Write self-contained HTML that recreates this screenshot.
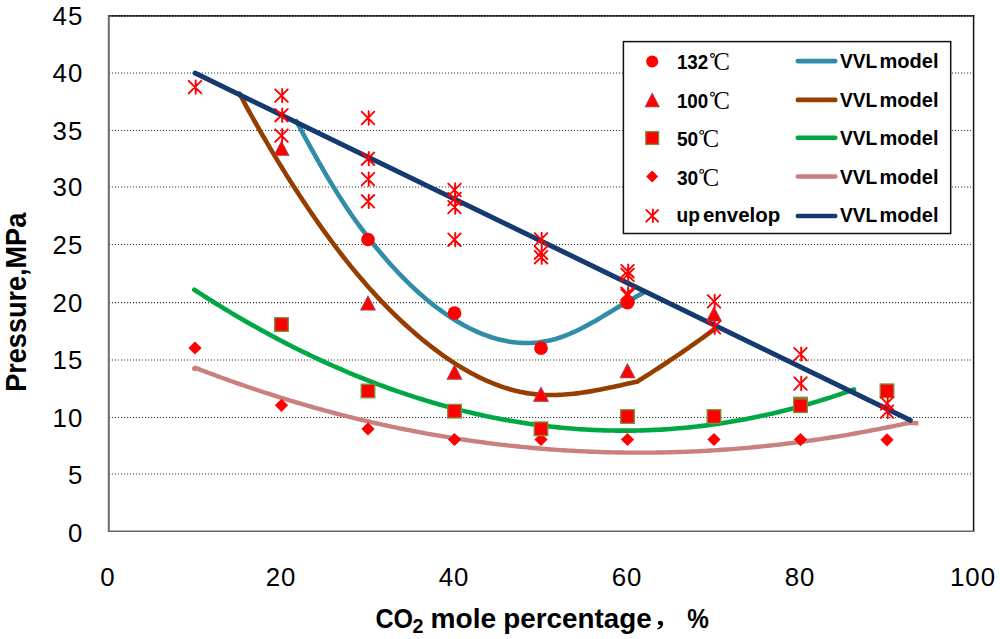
<!DOCTYPE html><html><head><meta charset="utf-8"><style>html,body{margin:0;padding:0;background:#fff;overflow:hidden}svg{display:block}</style></head><body>
<svg width="1000" height="639" viewBox="0 0 1000 639">
<rect width="1000" height="639" fill="#fff"/>
<line x1="109" y1="474.00" x2="973" y2="474.00" stroke="#333" stroke-width="1.05" stroke-dasharray="1 2"/>
<line x1="110" y1="474.00" x2="973" y2="474.00" stroke="#d4d4d4" stroke-width="1.05" stroke-dasharray="1 5"/>
<line x1="109" y1="417.45" x2="973" y2="417.45" stroke="#333" stroke-width="1.05" stroke-dasharray="1 2"/>
<line x1="110" y1="417.45" x2="973" y2="417.45" stroke="#d4d4d4" stroke-width="1.05" stroke-dasharray="1 5"/>
<line x1="109" y1="360.00" x2="973" y2="360.00" stroke="#333" stroke-width="1.05" stroke-dasharray="1 2"/>
<line x1="110" y1="360.00" x2="973" y2="360.00" stroke="#d4d4d4" stroke-width="1.05" stroke-dasharray="1 5"/>
<line x1="109" y1="302.60" x2="973" y2="302.60" stroke="#333" stroke-width="1.05" stroke-dasharray="1 2"/>
<line x1="110" y1="302.60" x2="973" y2="302.60" stroke="#d4d4d4" stroke-width="1.05" stroke-dasharray="1 5"/>
<line x1="109" y1="244.50" x2="973" y2="244.50" stroke="#333" stroke-width="1.05" stroke-dasharray="1 2"/>
<line x1="110" y1="244.50" x2="973" y2="244.50" stroke="#d4d4d4" stroke-width="1.05" stroke-dasharray="1 5"/>
<line x1="109" y1="187.00" x2="973" y2="187.00" stroke="#333" stroke-width="1.05" stroke-dasharray="1 2"/>
<line x1="110" y1="187.00" x2="973" y2="187.00" stroke="#d4d4d4" stroke-width="1.05" stroke-dasharray="1 5"/>
<line x1="109" y1="130.45" x2="973" y2="130.45" stroke="#333" stroke-width="1.05" stroke-dasharray="1 2"/>
<line x1="110" y1="130.45" x2="973" y2="130.45" stroke="#d4d4d4" stroke-width="1.05" stroke-dasharray="1 5"/>
<line x1="109" y1="73.00" x2="973" y2="73.00" stroke="#333" stroke-width="1.05" stroke-dasharray="1 2"/>
<line x1="110" y1="73.00" x2="973" y2="73.00" stroke="#d4d4d4" stroke-width="1.05" stroke-dasharray="1 5"/>
<line x1="108" y1="15.9" x2="974.3" y2="15.9" stroke="#444" stroke-width="1.6"/>
<line x1="109" y1="15.9" x2="974.3" y2="15.9" stroke="#000" stroke-width="1.3" stroke-dasharray="1.5 1.5"/>
<line x1="973.6" y1="15.2" x2="973.6" y2="532" stroke="#111" stroke-width="1.5"/>
<line x1="108.8" y1="15.2" x2="108.8" y2="532" stroke="#6b6b6b" stroke-width="2"/>
<line x1="108" y1="531.3" x2="974.3" y2="531.3" stroke="#666" stroke-width="1.5"/>
<g font-family="Liberation Sans, sans-serif" font-size="25.8" fill="#000" text-anchor="end" letter-spacing="1.1">
<text x="83.4" y="541.8">0</text>
<text x="83.4" y="484.1">5</text>
<text x="83.4" y="426.6">10</text>
<text x="83.4" y="369.1">15</text>
<text x="83.4" y="311.7">20</text>
<text x="83.4" y="253.6">25</text>
<text x="83.4" y="196.1">30</text>
<text x="83.4" y="139.5">35</text>
<text x="83.4" y="82.1">40</text>
<text x="83.4" y="24.9">45</text>
</g>
<g font-family="Liberation Sans, sans-serif" font-size="25.8" fill="#000" text-anchor="middle" letter-spacing="1.1">
<text x="108.1" y="585.6">0</text>
<text x="281.1" y="585.6">20</text>
<text x="454.1" y="585.6">40</text>
<text x="627.1" y="585.6">60</text>
<text x="800.1" y="585.6">80</text>
<text x="973.1" y="585.6">100</text>
</g>
<path d="M194.00,367.26 L197.00,368.42 L200.01,369.58 L203.01,370.73 L206.02,371.87 L209.02,373.01 L212.03,374.13 L215.03,375.25 L218.03,376.36 L221.04,377.46 L224.04,378.55 L227.05,379.64 L230.05,380.72 L233.05,381.78 L236.06,382.84 L239.06,383.90 L242.07,384.94 L245.07,385.97 L248.08,387.00 L251.08,388.02 L254.08,389.03 L257.09,390.03 L260.09,391.03 L263.10,392.02 L266.10,392.99 L269.11,393.96 L272.11,394.93 L275.11,395.88 L278.12,396.82 L281.12,397.76 L284.13,398.69 L287.13,399.61 L290.13,400.53 L293.14,401.43 L296.14,402.33 L299.15,403.22 L302.15,404.10 L305.16,404.97 L308.16,405.83 L311.16,406.69 L314.17,407.54 L317.17,408.38 L320.18,409.21 L323.18,410.04 L326.18,410.85 L329.19,411.66 L332.19,412.46 L335.20,413.25 L338.20,414.04 L341.21,414.81 L344.21,415.58 L347.21,416.34 L350.22,417.09 L353.22,417.83 L356.23,418.57 L359.23,419.30 L362.24,420.02 L365.24,420.73 L368.24,421.43 L371.25,422.13 L374.25,422.82 L377.26,423.50 L380.26,424.17 L383.26,424.83 L386.27,425.49 L389.27,426.14 L392.28,426.78 L395.28,427.41 L398.29,428.03 L401.29,428.65 L404.29,429.26 L407.30,429.86 L410.30,430.45 L413.31,431.03 L416.31,431.61 L419.32,432.18 L422.32,432.74 L425.32,433.29 L428.33,433.84 L431.33,434.37 L434.34,434.90 L437.34,435.42 L440.34,435.94 L443.35,436.44 L446.35,436.94 L449.36,437.43 L452.36,437.91 L455.37,438.39 L458.37,438.85 L461.37,439.31 L464.38,439.76 L467.38,440.21 L470.39,440.64 L473.39,441.07 L476.39,441.49 L479.40,441.90 L482.40,442.30 L485.41,442.70 L488.41,443.09 L491.42,443.47 L494.42,443.84 L497.42,444.20 L500.43,444.56 L503.43,444.91 L506.44,445.25 L509.44,445.59 L512.45,445.91 L515.45,446.23 L518.45,446.54 L521.46,446.84 L524.46,447.14 L527.47,447.43 L530.47,447.71 L533.47,447.98 L536.48,448.24 L539.48,448.50 L542.49,448.75 L545.49,448.99 L548.50,449.22 L551.50,449.45 L554.50,449.66 L557.51,449.88 L560.51,450.08 L563.52,450.27 L566.52,450.46 L569.53,450.64 L572.53,450.81 L575.53,450.98 L578.54,451.13 L581.54,451.28 L584.55,451.42 L587.55,451.56 L590.55,451.68 L593.56,451.80 L596.56,451.91 L599.57,452.02 L602.57,452.11 L605.58,452.20 L608.58,452.28 L611.58,452.35 L614.59,452.42 L617.59,452.48 L620.60,452.53 L623.60,452.57 L626.61,452.60 L629.61,452.63 L632.61,452.65 L635.62,452.66 L638.62,452.67 L641.63,452.67 L644.63,452.66 L647.63,452.64 L650.64,452.61 L653.64,452.58 L656.65,452.54 L659.65,452.49 L662.66,452.44 L665.66,452.37 L668.66,452.30 L671.67,452.23 L674.67,452.14 L677.68,452.05 L680.68,451.95 L683.68,451.84 L686.69,451.73 L689.69,451.60 L692.70,451.47 L695.70,451.34 L698.71,451.19 L701.71,451.04 L704.71,450.88 L707.72,450.71 L710.72,450.54 L713.73,450.35 L716.73,450.16 L719.74,449.97 L722.74,449.76 L725.74,449.55 L728.75,449.33 L731.75,449.11 L734.76,448.87 L737.76,448.63 L740.76,448.38 L743.77,448.13 L746.77,447.86 L749.78,447.59 L752.78,447.31 L755.79,447.03 L758.79,446.74 L761.79,446.43 L764.80,446.13 L767.80,445.81 L770.81,445.49 L773.81,445.16 L776.82,444.82 L779.82,444.48 L782.82,444.13 L785.83,443.77 L788.83,443.40 L791.84,443.03 L794.84,442.65 L797.84,442.26 L800.85,441.87 L803.85,441.46 L806.86,441.05 L809.86,440.64 L812.87,440.21 L815.87,439.78 L818.87,439.34 L821.88,438.90 L824.88,438.44 L827.89,437.98 L830.89,437.52 L833.89,437.04 L836.90,436.56 L839.90,436.07 L842.91,435.57 L845.91,435.07 L848.92,434.56 L851.92,434.04 L854.92,433.51 L857.93,432.98 L860.93,432.44 L863.94,431.90 L866.94,431.34 L869.95,430.78 L872.95,430.21 L875.95,429.64 L878.96,429.05 L881.96,428.46 L884.97,427.87 L887.97,427.26 L890.97,426.65 L893.98,426.03 L896.98,425.41 L899.99,424.78 L902.99,424.14 L906.00,423.49 L909.00,422.84 L918.4,423.3" fill="none" stroke="#c98080" stroke-width="4.4" stroke-linecap="butt" stroke-linejoin="round"/>
<circle cx="194.6" cy="368.6" r="2.6" fill="#c98080"/>
<path d="M194.30,289.77 L197.31,291.73 L200.32,293.67 L203.34,295.60 L206.35,297.52 L209.36,299.42 L212.37,301.31 L215.39,303.19 L218.40,305.05 L221.41,306.90 L224.42,308.74 L227.44,310.56 L230.45,312.37 L233.46,314.16 L236.47,315.94 L239.48,317.71 L242.50,319.46 L245.51,321.20 L248.52,322.93 L251.53,324.64 L254.55,326.34 L257.56,328.03 L260.57,329.70 L263.58,331.36 L266.60,333.01 L269.61,334.64 L272.62,336.26 L275.63,337.86 L278.65,339.45 L281.66,341.03 L284.67,342.59 L287.68,344.14 L290.69,345.68 L293.71,347.20 L296.72,348.71 L299.73,350.21 L302.74,351.69 L305.76,353.16 L308.77,354.61 L311.78,356.05 L314.79,357.48 L317.81,358.89 L320.82,360.29 L323.83,361.68 L326.84,363.05 L329.85,364.41 L332.87,365.76 L335.88,367.09 L338.89,368.41 L341.90,369.71 L344.92,371.00 L347.93,372.28 L350.94,373.54 L353.95,374.79 L356.97,376.03 L359.98,377.25 L362.99,378.46 L366.00,379.65 L369.02,380.83 L372.03,382.00 L375.04,383.15 L378.05,384.29 L381.06,385.42 L384.08,386.53 L387.09,387.63 L390.10,388.72 L393.11,389.79 L396.13,390.84 L399.14,391.89 L402.15,392.92 L405.16,393.93 L408.18,394.94 L411.19,395.92 L414.20,396.90 L417.21,397.86 L420.22,398.81 L423.24,399.74 L426.25,400.66 L429.26,401.56 L432.27,402.46 L435.29,403.33 L438.30,404.20 L441.31,405.05 L444.32,405.89 L447.34,406.71 L450.35,407.52 L453.36,408.31 L456.37,409.09 L459.38,409.86 L462.40,410.62 L465.41,411.36 L468.42,412.08 L471.43,412.79 L474.45,413.49 L477.46,414.18 L480.47,414.85 L483.48,415.50 L486.50,416.15 L489.51,416.78 L492.52,417.39 L495.53,417.99 L498.55,418.58 L501.56,419.15 L504.57,419.71 L507.58,420.26 L510.59,420.79 L513.61,421.31 L516.62,421.81 L519.63,422.30 L522.64,422.78 L525.66,423.24 L528.67,423.69 L531.68,424.12 L534.69,424.54 L537.71,424.95 L540.72,425.34 L543.73,425.72 L546.74,426.09 L549.75,426.44 L552.77,426.77 L555.78,427.10 L558.79,427.40 L561.80,427.70 L564.82,427.98 L567.83,428.25 L570.84,428.50 L573.85,428.74 L576.87,428.96 L579.88,429.18 L582.89,429.37 L585.90,429.56 L588.92,429.73 L591.93,429.88 L594.94,430.02 L597.95,430.15 L600.96,430.26 L603.98,430.36 L606.99,430.45 L610.00,430.52 L613.01,430.57 L616.03,430.62 L619.04,430.65 L622.05,430.66 L625.06,430.66 L628.08,430.65 L631.09,430.62 L634.10,430.58 L637.11,430.52 L640.12,430.46 L643.14,430.37 L646.15,430.27 L649.16,430.16 L652.17,430.04 L655.19,429.90 L658.20,429.74 L661.21,429.58 L664.22,429.39 L667.24,429.20 L670.25,428.99 L673.26,428.76 L676.27,428.52 L679.28,428.27 L682.30,428.01 L685.31,427.72 L688.32,427.43 L691.33,427.12 L694.35,426.80 L697.36,426.46 L700.37,426.11 L703.38,425.74 L706.40,425.36 L709.41,424.97 L712.42,424.56 L715.43,424.14 L718.45,423.70 L721.46,423.25 L724.47,422.79 L727.48,422.31 L730.49,421.82 L733.51,421.31 L736.52,420.79 L739.53,420.25 L742.54,419.70 L745.56,419.14 L748.57,418.56 L751.58,417.97 L754.59,417.36 L757.61,416.74 L760.62,416.11 L763.63,415.46 L766.64,414.80 L769.65,414.12 L772.67,413.43 L775.68,412.72 L778.69,412.00 L781.70,411.27 L784.72,410.52 L787.73,409.75 L790.74,408.98 L793.75,408.19 L796.77,407.38 L799.78,406.56 L802.79,405.73 L805.80,404.88 L808.82,404.02 L811.83,403.14 L814.84,402.25 L817.85,401.34 L820.86,400.42 L823.88,399.49 L826.89,398.54 L829.90,397.58 L832.91,396.60 L835.93,395.61 L838.94,394.60 L841.95,393.58 L844.96,392.55 L847.98,391.50 L850.99,390.44 L854.00,389.36" fill="none" stroke="#00a843" stroke-width="4.6" stroke-linecap="round" stroke-linejoin="round"/>
<path d="M239.50,93.65 L242.51,99.25 L245.52,104.80 L248.53,110.30 L251.55,115.75 L254.56,121.14 L257.57,126.48 L260.58,131.77 L263.59,137.00 L266.60,142.18 L269.61,147.31 L272.63,152.38 L275.64,157.41 L278.65,162.38 L281.66,167.30 L284.67,172.16 L287.68,176.98 L290.69,181.75 L293.71,186.46 L296.72,191.12 L299.73,195.73 L302.74,200.29 L305.75,204.80 L308.76,209.26 L311.77,213.67 L314.79,218.03 L317.80,222.34 L320.81,226.60 L323.82,230.81 L326.83,234.97 L329.84,239.08 L332.85,243.14 L335.87,247.15 L338.88,251.11 L341.89,255.01 L344.90,258.86 L347.91,262.66 L350.92,266.40 L353.94,270.09 L356.95,273.72 L359.96,277.30 L362.97,280.83 L365.98,284.30 L368.99,287.71 L372.00,291.07 L375.02,294.37 L378.03,297.62 L381.04,300.81 L384.05,303.95 L387.06,307.04 L390.07,310.08 L393.08,313.06 L396.10,315.99 L399.11,318.87 L402.12,321.70 L405.13,324.49 L408.14,327.22 L411.15,329.91 L414.16,332.54 L417.18,335.13 L420.19,337.68 L423.20,340.17 L426.21,342.62 L429.22,345.02 L432.23,347.37 L435.24,349.67 L438.26,351.92 L441.27,354.12 L444.28,356.26 L447.29,358.36 L450.30,360.40 L453.31,362.39 L456.32,364.33 L459.34,366.21 L462.35,368.04 L465.36,369.81 L468.37,371.53 L471.38,373.19 L474.39,374.79 L477.40,376.34 L480.42,377.83 L483.43,379.26 L486.44,380.63 L489.45,381.94 L492.46,383.19 L495.47,384.38 L498.48,385.52 L501.50,386.59 L504.51,387.59 L507.52,388.54 L510.53,389.42 L513.54,390.24 L516.55,390.99 L519.56,391.68 L522.58,392.31 L525.59,392.87 L528.60,393.36 L531.61,393.78 L534.62,394.14 L537.63,394.44 L540.65,394.67 L543.66,394.85 L546.67,394.96 L549.68,395.02 L552.69,395.03 L555.70,394.99 L558.71,394.89 L561.73,394.75 L564.74,394.56 L567.75,394.33 L570.76,394.05 L573.77,393.74 L576.78,393.39 L579.79,393.00 L582.81,392.58 L585.82,392.12 L588.83,391.64 L591.84,391.13 L594.85,390.60 L597.86,390.04 L600.87,389.46 L603.89,388.85 L606.90,388.24 L609.91,387.60 L612.92,386.95 L615.93,386.29 L618.94,385.63 L621.95,384.95 L624.97,384.27 L627.98,383.58 L630.99,382.90 L634.00,382.21 L637.03,381.70 L640.05,379.81 L643.08,377.91 L646.11,376.00 L649.13,374.07 L652.16,372.13 L655.19,370.18 L658.22,368.21 L661.24,366.23 L664.27,364.23 L667.30,362.22 L670.32,360.20 L673.35,358.17 L676.38,356.12 L679.40,354.06 L682.43,351.98 L685.46,349.89 L688.48,347.79 L691.51,345.68 L694.54,343.55 L697.57,341.40 L700.59,339.25 L703.62,337.08 L706.65,334.90 L709.67,332.70 L712.70,330.49" fill="none" stroke="#953e00" stroke-width="4.6" stroke-linecap="round" stroke-linejoin="round"/>
<path d="M296.30,121.07 L299.31,126.68 L302.33,132.27 L305.34,137.82 L308.36,143.33 L311.37,148.80 L314.39,154.22 L317.40,159.59 L320.42,164.89 L323.43,170.13 L326.45,175.30 L329.46,180.39 L332.48,185.40 L335.49,190.31 L338.51,195.14 L341.52,199.86 L344.54,204.48 L347.55,209.00 L350.57,213.43 L353.58,217.77 L356.60,222.01 L359.61,226.17 L362.63,230.24 L365.64,234.23 L368.65,238.13 L371.67,241.96 L374.68,245.72 L377.70,249.40 L380.71,253.01 L383.73,256.56 L386.74,260.03 L389.76,263.44 L392.77,266.77 L395.79,270.04 L398.80,273.24 L401.82,276.37 L404.83,279.43 L407.85,282.42 L410.86,285.35 L413.88,288.20 L416.89,290.98 L419.91,293.69 L422.92,296.34 L425.94,298.91 L428.95,301.41 L431.97,303.84 L434.98,306.20 L437.99,308.50 L441.01,310.72 L444.02,312.86 L447.04,314.94 L450.05,316.95 L453.07,318.89 L456.08,320.75 L459.10,322.54 L462.11,324.26 L465.13,325.91 L468.14,327.49 L471.16,328.99 L474.17,330.43 L477.19,331.79 L480.20,333.07 L483.22,334.28 L486.23,335.42 L489.25,336.47 L492.26,337.46 L495.28,338.36 L498.29,339.19 L501.31,339.93 L504.32,340.60 L507.33,341.18 L510.35,341.69 L513.36,342.11 L516.38,342.44 L519.39,342.70 L522.41,342.87 L525.42,342.95 L528.44,342.95 L531.45,342.86 L534.47,342.68 L537.48,342.42 L540.50,342.06 L543.51,341.62 L546.53,341.08 L549.54,340.46 L552.56,339.74 L555.57,338.92 L558.59,338.02 L561.60,337.02 L564.62,335.92 L567.63,334.75 L570.65,333.48 L573.66,332.15 L576.67,330.74 L579.69,329.27 L582.70,327.74 L585.72,326.16 L588.73,324.52 L591.75,322.85 L594.76,321.13 L597.78,319.39 L600.79,317.61 L603.81,315.82 L606.82,314.01 L609.84,312.19 L612.85,310.36 L615.87,308.54 L618.88,306.72 L621.90,304.91 L624.91,303.12 L627.93,301.35 L630.94,299.60 L633.96,297.89 L636.97,296.22 L639.99,294.60 L643.00,293.02" fill="none" stroke="#318ca8" stroke-width="4.6" stroke-linecap="round" stroke-linejoin="round"/>
<path d="M195.0,73.1L910.3,420.2" fill="none" stroke="#143a70" stroke-width="5.0" stroke-linecap="round" stroke-linejoin="round"/>
<path d="M195.0,341.4L201.6,348.0L195.0,354.6L188.4,348.0Z" fill="#ff0000"/>
<path d="M281.5,398.7L288.1,405.3L281.5,411.9L274.9,405.3Z" fill="#ff0000"/>
<path d="M368.0,422.3L374.6,428.9L368.0,435.5L361.4,428.9Z" fill="#ff0000"/>
<path d="M454.5,432.9L461.1,439.5L454.5,446.1L447.9,439.5Z" fill="#ff0000"/>
<path d="M541.0,432.9L547.6,439.5L541.0,446.1L534.4,439.5Z" fill="#ff0000"/>
<path d="M627.5,432.9L634.1,439.5L627.5,446.1L620.9,439.5Z" fill="#ff0000"/>
<path d="M714.0,432.9L720.6,439.5L714.0,446.1L707.4,439.5Z" fill="#ff0000"/>
<path d="M800.5,433.0L807.1,439.6L800.5,446.2L793.9,439.6Z" fill="#ff0000"/>
<path d="M887.0,433.2L893.6,439.8L887.0,446.4L880.4,439.8Z" fill="#ff0000"/>
<rect x="274.7" y="317.7" width="13.6" height="13.6" fill="#ff0000" stroke="#76923c" stroke-width="1.3"/>
<rect x="361.2" y="384.2" width="13.6" height="13.6" fill="#ff0000" stroke="#76923c" stroke-width="1.3"/>
<rect x="447.7" y="404.4" width="13.6" height="13.6" fill="#ff0000" stroke="#76923c" stroke-width="1.3"/>
<rect x="534.2" y="422.0" width="13.6" height="13.6" fill="#ff0000" stroke="#76923c" stroke-width="1.3"/>
<rect x="620.7" y="409.7" width="13.6" height="13.6" fill="#ff0000" stroke="#76923c" stroke-width="1.3"/>
<rect x="707.2" y="409.7" width="13.6" height="13.6" fill="#ff0000" stroke="#76923c" stroke-width="1.3"/>
<rect x="793.7" y="397.3" width="13.6" height="13.6" fill="#ff0000" stroke="#76923c" stroke-width="1.3"/>
<rect x="793.7" y="398.9" width="13.6" height="13.6" fill="#ff0000" stroke="#76923c" stroke-width="1.3"/>
<rect x="880.2" y="384.0" width="13.6" height="13.6" fill="#ff0000" stroke="#76923c" stroke-width="1.3"/>
<path d="M281.5,141.4L288.7,155.2L274.3,155.2Z" fill="#ff0000" stroke="#b8333f" stroke-width="1.1" stroke-linejoin="miter"/>
<path d="M368.0,296.2L375.2,310.0L360.8,310.0Z" fill="#ff0000" stroke="#b8333f" stroke-width="1.1" stroke-linejoin="miter"/>
<path d="M454.5,365.3L461.7,379.1L447.3,379.1Z" fill="#ff0000" stroke="#b8333f" stroke-width="1.1" stroke-linejoin="miter"/>
<path d="M541.0,387.5L548.2,401.3L533.8,401.3Z" fill="#ff0000" stroke="#b8333f" stroke-width="1.1" stroke-linejoin="miter"/>
<path d="M627.5,364.0L634.7,377.8L620.3,377.8Z" fill="#ff0000" stroke="#b8333f" stroke-width="1.1" stroke-linejoin="miter"/>
<path d="M714.0,307.2L721.2,321.0L706.8,321.0Z" fill="#ff0000" stroke="#b8333f" stroke-width="1.1" stroke-linejoin="miter"/>
<circle cx="368.0" cy="239.5" r="6.85" fill="#ff0000"/>
<circle cx="454.5" cy="313.2" r="6.85" fill="#ff0000"/>
<circle cx="541.0" cy="348.2" r="6.85" fill="#ff0000"/>
<circle cx="627.5" cy="302.7" r="6.85" fill="#ff0000"/>
<path d="M188.7,80.8L201.3,93.4M201.3,80.8L188.7,93.4M195.7,80.4L195.7,93.8" stroke="#ff0000" stroke-width="1.9" stroke-linecap="round" fill="none"/>
<path d="M275.2,89.3L287.8,101.9M287.8,89.3L275.2,101.9M282.2,88.9L282.2,102.3" stroke="#ff0000" stroke-width="1.9" stroke-linecap="round" fill="none"/>
<path d="M275.2,108.9L287.8,121.5M287.8,108.9L275.2,121.5M282.2,108.5L282.2,121.9" stroke="#ff0000" stroke-width="1.9" stroke-linecap="round" fill="none"/>
<path d="M275.2,129.3L287.8,141.9M287.8,129.3L275.2,141.9M282.2,128.9L282.2,142.3" stroke="#ff0000" stroke-width="1.9" stroke-linecap="round" fill="none"/>
<path d="M361.7,111.7L374.3,124.3M374.3,111.7L361.7,124.3M368.7,111.3L368.7,124.7" stroke="#ff0000" stroke-width="1.9" stroke-linecap="round" fill="none"/>
<path d="M361.7,152.4L374.3,165.0M374.3,152.4L361.7,165.0M368.7,152.0L368.7,165.4" stroke="#ff0000" stroke-width="1.9" stroke-linecap="round" fill="none"/>
<path d="M361.7,172.8L374.3,185.4M374.3,172.8L361.7,185.4M368.7,172.4L368.7,185.8" stroke="#ff0000" stroke-width="1.9" stroke-linecap="round" fill="none"/>
<path d="M361.7,195.0L374.3,207.6M374.3,195.0L361.7,207.6M368.7,194.6L368.7,208.0" stroke="#ff0000" stroke-width="1.9" stroke-linecap="round" fill="none"/>
<path d="M448.2,183.6L460.8,196.2M460.8,183.6L448.2,196.2M455.2,183.2L455.2,196.6" stroke="#ff0000" stroke-width="1.9" stroke-linecap="round" fill="none"/>
<path d="M448.2,192.7L460.8,205.3M460.8,192.7L448.2,205.3M455.2,192.3L455.2,205.7" stroke="#ff0000" stroke-width="1.9" stroke-linecap="round" fill="none"/>
<path d="M448.2,200.8L460.8,213.4M460.8,200.8L448.2,213.4M455.2,200.4L455.2,213.8" stroke="#ff0000" stroke-width="1.9" stroke-linecap="round" fill="none"/>
<path d="M448.2,233.4L460.8,246.0M460.8,233.4L448.2,246.0M455.2,233.0L455.2,246.4" stroke="#ff0000" stroke-width="1.9" stroke-linecap="round" fill="none"/>
<path d="M534.7,233.1L547.3,245.7M547.3,233.1L534.7,245.7M541.7,232.7L541.7,246.1" stroke="#ff0000" stroke-width="1.9" stroke-linecap="round" fill="none"/>
<path d="M534.7,246.4L547.3,259.0M547.3,246.4L534.7,259.0M541.7,246.0L541.7,259.4" stroke="#ff0000" stroke-width="1.9" stroke-linecap="round" fill="none"/>
<path d="M534.7,250.9L547.3,263.5M547.3,250.9L534.7,263.5M541.7,250.5L541.7,263.9" stroke="#ff0000" stroke-width="1.9" stroke-linecap="round" fill="none"/>
<path d="M621.2,264.9L633.8,277.5M633.8,264.9L621.2,277.5M628.2,264.5L628.2,277.9" stroke="#ff0000" stroke-width="1.9" stroke-linecap="round" fill="none"/>
<path d="M621.2,268.6L633.8,281.2M633.8,268.6L621.2,281.2M628.2,268.2L628.2,281.6" stroke="#ff0000" stroke-width="1.9" stroke-linecap="round" fill="none"/>
<path d="M621.2,287.4L633.8,300.0M633.8,287.4L621.2,300.0M628.2,287.0L628.2,300.4" stroke="#ff0000" stroke-width="1.9" stroke-linecap="round" fill="none"/>
<path d="M621.2,289.3L633.8,301.9M633.8,289.3L621.2,301.9M628.2,288.9L628.2,302.3" stroke="#ff0000" stroke-width="1.9" stroke-linecap="round" fill="none"/>
<path d="M707.7,295.1L720.3,307.7M720.3,295.1L707.7,307.7M714.7,294.7L714.7,308.1" stroke="#ff0000" stroke-width="1.9" stroke-linecap="round" fill="none"/>
<path d="M707.7,321.1L720.3,333.7M720.3,321.1L707.7,333.7M714.7,320.7L714.7,334.1" stroke="#ff0000" stroke-width="1.9" stroke-linecap="round" fill="none"/>
<path d="M794.2,347.8L806.8,360.4M806.8,347.8L794.2,360.4M801.2,347.4L801.2,360.8" stroke="#ff0000" stroke-width="1.9" stroke-linecap="round" fill="none"/>
<path d="M794.2,377.2L806.8,389.8M806.8,377.2L794.2,389.8M801.2,376.8L801.2,390.2" stroke="#ff0000" stroke-width="1.9" stroke-linecap="round" fill="none"/>
<path d="M880.7,397.1L893.3,409.7M893.3,397.1L880.7,409.7M887.7,396.7L887.7,410.1" stroke="#ff0000" stroke-width="1.9" stroke-linecap="round" fill="none"/>
<path d="M880.7,405.3L893.3,417.9M893.3,405.3L880.7,417.9M887.7,404.9L887.7,418.3" stroke="#ff0000" stroke-width="1.9" stroke-linecap="round" fill="none"/>
<rect x="623.4" y="41.6" width="327.3" height="191.9" fill="#fff" stroke="#111" stroke-width="1.5"/>
<circle cx="652.2" cy="61.4" r="6.00" fill="#ff0000"/>
<path d="M652.2,93.4L659.0,106.8L645.4,106.8Z" fill="#ff0000" stroke="#b8333f" stroke-width="1.1" stroke-linejoin="miter"/>
<rect x="645.8" y="131.6" width="12.8" height="12.8" fill="#ff0000" stroke="#76923c" stroke-width="1.3"/>
<path d="M652.2,170.5L658.2,176.5L652.2,182.5L646.2,176.5Z" fill="#ff0000"/>
<path d="M646.3,209.9L658.1,221.7M658.1,209.9L646.3,221.7M652.9,209.5L652.9,222.1" stroke="#ff0000" stroke-width="1.9" stroke-linecap="round" fill="none"/>
<line x1="797.8" y1="61.1" x2="835.3" y2="61.1" stroke="#318ca8" stroke-width="4.6" stroke-linecap="round"/>
<line x1="797.8" y1="99.9" x2="835.3" y2="99.9" stroke="#953e00" stroke-width="4.6" stroke-linecap="round"/>
<line x1="797.8" y1="137.8" x2="835.3" y2="137.8" stroke="#00a843" stroke-width="4.6" stroke-linecap="round"/>
<line x1="797.8" y1="176.5" x2="835.3" y2="176.5" stroke="#c98080" stroke-width="4.6" stroke-linecap="round"/>
<line x1="797.8" y1="216.0" x2="835.3" y2="216.0" stroke="#143a70" stroke-width="4.6" stroke-linecap="round"/>
<text font-family="Liberation Sans, sans-serif" font-weight="bold" font-size="20.4" x="839.9" y="67.9" textLength="37.3" lengthAdjust="spacingAndGlyphs">VVL</text>
<text font-family="Liberation Sans, sans-serif" font-weight="bold" font-size="20.4" x="879.5" y="67.9" textLength="59.0" lengthAdjust="spacingAndGlyphs">model</text>
<text font-family="Liberation Sans, sans-serif" font-weight="bold" font-size="20.4" x="839.9" y="106.5" textLength="37.3" lengthAdjust="spacingAndGlyphs">VVL</text>
<text font-family="Liberation Sans, sans-serif" font-weight="bold" font-size="20.4" x="879.5" y="106.5" textLength="59.0" lengthAdjust="spacingAndGlyphs">model</text>
<text font-family="Liberation Sans, sans-serif" font-weight="bold" font-size="20.4" x="839.9" y="145.1" textLength="37.3" lengthAdjust="spacingAndGlyphs">VVL</text>
<text font-family="Liberation Sans, sans-serif" font-weight="bold" font-size="20.4" x="879.5" y="145.1" textLength="59.0" lengthAdjust="spacingAndGlyphs">model</text>
<text font-family="Liberation Sans, sans-serif" font-weight="bold" font-size="20.4" x="839.9" y="183.7" textLength="37.3" lengthAdjust="spacingAndGlyphs">VVL</text>
<text font-family="Liberation Sans, sans-serif" font-weight="bold" font-size="20.4" x="879.5" y="183.7" textLength="59.0" lengthAdjust="spacingAndGlyphs">model</text>
<text font-family="Liberation Sans, sans-serif" font-weight="bold" font-size="20.4" x="839.9" y="222.3" textLength="37.3" lengthAdjust="spacingAndGlyphs">VVL</text>
<text font-family="Liberation Sans, sans-serif" font-weight="bold" font-size="20.4" x="879.5" y="222.3" textLength="59.0" lengthAdjust="spacingAndGlyphs">model</text>
<text font-family="Liberation Sans, sans-serif" font-weight="bold" font-size="20.4" x="676.9" y="69.3" textLength="31.4" lengthAdjust="spacingAndGlyphs">132</text>
<circle cx="712.5" cy="55.5" r="1.9" fill="none" stroke="#000" stroke-width="1.1"/>
<text font-family="Liberation Serif, serif" font-size="24.5" x="713.5" y="69.9">C</text>
<text font-family="Liberation Sans, sans-serif" font-weight="bold" font-size="20.4" x="676.9" y="108.0" textLength="31.4" lengthAdjust="spacingAndGlyphs">100</text>
<circle cx="712.5" cy="94.2" r="1.9" fill="none" stroke="#000" stroke-width="1.1"/>
<text font-family="Liberation Serif, serif" font-size="24.5" x="713.5" y="108.6">C</text>
<text font-family="Liberation Sans, sans-serif" font-weight="bold" font-size="20.4" x="676.9" y="146.2" textLength="21.3" lengthAdjust="spacingAndGlyphs">50</text>
<circle cx="701.7" cy="132.4" r="1.9" fill="none" stroke="#000" stroke-width="1.1"/>
<text font-family="Liberation Serif, serif" font-size="24.5" x="702.7" y="146.8">C</text>
<text font-family="Liberation Sans, sans-serif" font-weight="bold" font-size="20.4" x="676.9" y="185.2" textLength="21.3" lengthAdjust="spacingAndGlyphs">30</text>
<circle cx="701.7" cy="171.4" r="1.9" fill="none" stroke="#000" stroke-width="1.1"/>
<text font-family="Liberation Serif, serif" font-size="24.5" x="702.7" y="185.8">C</text>
<text font-family="Liberation Sans, sans-serif" font-weight="bold" font-size="20.4" x="676.5" y="222.2" textLength="23.4" lengthAdjust="spacingAndGlyphs">up</text>
<text font-family="Liberation Sans, sans-serif" font-weight="bold" font-size="20.4" x="702.9" y="222.2" textLength="77.3" lengthAdjust="spacingAndGlyphs">envelop</text>
<text font-family="Liberation Sans, sans-serif" font-weight="bold" font-size="27" x="375.4" y="628.4" textLength="37.6" lengthAdjust="spacingAndGlyphs">CO</text>
<text font-family="Liberation Sans, sans-serif" font-weight="bold" font-size="20" x="412.6" y="633.4" textLength="11" lengthAdjust="spacingAndGlyphs">2</text>
<text font-family="Liberation Sans, sans-serif" font-weight="bold" font-size="27" x="430.6" y="628.4" textLength="65.6" lengthAdjust="spacingAndGlyphs">mole</text>
<text font-family="Liberation Sans, sans-serif" font-weight="bold" font-size="27" x="503.3" y="628.4" textLength="148.4" lengthAdjust="spacingAndGlyphs">percentage</text>
<path d="M660.3,620.8 c1.7,0 2.9,1.3 2.9,3.1 c0,2.6 -2.3,4.6 -5.6,5.6 l-0.5,-1.1 c1.9,-0.8 3.1,-1.9 3.3,-3.1 c-1.5,-0.1 -2.6,-1.1 -2.6,-2.3 c0,-1.3 1.1,-2.2 2.5,-2.2z" fill="#000"/>
<text font-family="Liberation Sans, sans-serif" font-weight="bold" font-size="27" x="687.2" y="628.4" textLength="21.6" lengthAdjust="spacingAndGlyphs">%</text>
<text font-family="Liberation Sans, sans-serif" font-weight="bold" font-size="29" transform="translate(26.2,391.8) rotate(-90)" x="0" y="0" textLength="179" lengthAdjust="spacingAndGlyphs">Pressure,MPa</text>
</svg></body></html>
